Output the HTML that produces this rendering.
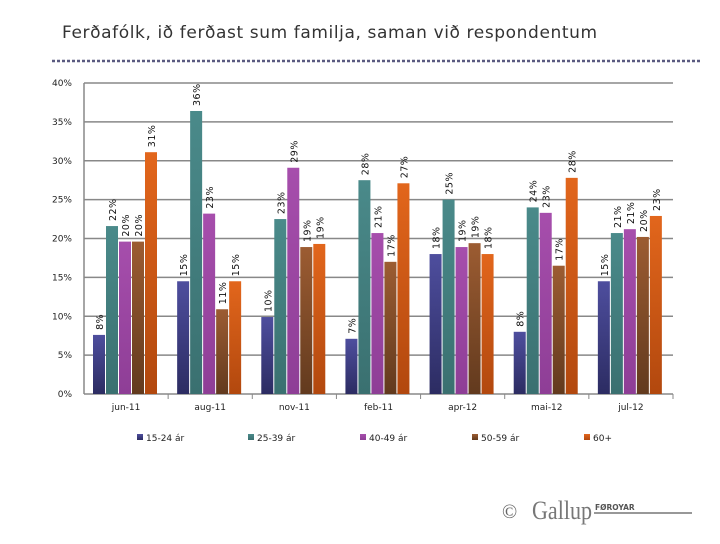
<!DOCTYPE html>
<html><head><meta charset="utf-8"><style>
body{margin:0;background:#fff;width:720px;height:540px;overflow:hidden;font-family:"DejaVu Sans","Liberation Sans",sans-serif}
</style></head><body>
<svg id="c" width="720" height="540" xmlns="http://www.w3.org/2000/svg">
<defs>
<linearGradient id="g0" x1="0" y1="0" x2="0" y2="1"><stop offset="0" stop-color="#4e4e9e"/><stop offset="1" stop-color="#2c2c62"/></linearGradient>
<linearGradient id="g1" x1="0" y1="0" x2="0" y2="1"><stop offset="0" stop-color="#4a8a8a"/><stop offset="1" stop-color="#3a7070"/></linearGradient>
<linearGradient id="g2" x1="0" y1="0" x2="0" y2="1"><stop offset="0" stop-color="#a64eac"/><stop offset="1" stop-color="#8e3e96"/></linearGradient>
<linearGradient id="g3" x1="0" y1="0" x2="0" y2="1"><stop offset="0" stop-color="#9c5c32"/><stop offset="1" stop-color="#623a1e"/></linearGradient>
<linearGradient id="g4" x1="0" y1="0" x2="0" y2="1"><stop offset="0" stop-color="#e2661c"/><stop offset="1" stop-color="#b2480e"/></linearGradient>
</defs>
<text x="62" y="38" font-size="17" fill="#333" letter-spacing="0.6">Ferðafólk, ið ferðast sum familja, saman við respondentum</text>
<line x1="52" y1="61" x2="700" y2="61" stroke="#5a5a80" stroke-width="2.5" stroke-dasharray="3,2"/>
<g id="grid"></g><g id="bars"></g><g id="labels"></g>
<g>
<text x="502" y="518" font-size="20" fill="#666" font-family="Liberation Serif,serif">©</text>
<text x="532" y="519" font-size="26" fill="#777" font-family="Liberation Serif,serif" textLength="60" lengthAdjust="spacingAndGlyphs">Gallup</text>
<text x="595" y="510" font-size="7.5" fill="#555" font-weight="bold">FØROYAR</text>
<line x1="594" y1="513" x2="692" y2="513" stroke="#777" stroke-width="1.5"/>
</g>
</svg>
<script>
const categories=["jun-11","aug-11","nov-11","feb-11","apr-12","mai-12","jul-12"];
const seriesNames=["15-24 ár","25-39 ár","40-49 ár","50-59 ár","60+"];
const s1524=[7.6,14.5,9.9,7.1,18.0,8.0,14.5];
const s2539=[21.6,36.4,22.5,27.5,25.0,24.0,20.7];
const s4049=[19.6,23.2,29.1,20.7,18.9,23.3,21.2];
const s5059=[19.6,10.9,18.9,17.0,19.4,16.5,20.2];
const s60=[31.1,14.5,19.3,27.1,18.0,27.8,22.9];
const yTicks=[0,5,10,15,20,25,30,35,40];
const series=[s1524,s2539,s4049,s5059,s60];
const NS="http://www.w3.org/2000/svg";
const x0=84,x1=673,yb=394,yt=83,ymax=40;
const y=v=>yb-(v/ymax)*(yb-yt);
const gw=(x1-x0)/categories.length;
function mk(t,a,p){const e=document.createElementNS(NS,t);for(const k in a)e.setAttribute(k,a[k]);p.appendChild(e);return e;}
const grid=document.getElementById('grid'),bars=document.getElementById('bars'),labels=document.getElementById('labels');
yTicks.forEach(t=>{
 const l=mk('line',{x1:x0,x2:x1,y1:y(t),y2:y(t),stroke:'#888','stroke-width':1.5},grid);
 
 
 const tx=mk('text',{x:72,y:y(t)+3,'font-size':9,fill:'#222','text-anchor':'end'},grid);
 tx.textContent=t+'%';
 
 
});
mk('line',{x1:x0,x2:x0,y1:yt,y2:yb,stroke:'#888','stroke-width':1.5},grid);
categories.forEach((c,i)=>{
 const gx=x0+i*gw;
 mk('line',{x1:gx+gw,x2:gx+gw,y1:yb,y2:yb+5,stroke:'#888'},grid);
 const t=mk('text',{x:gx+gw/2,y:410,'font-size':9,fill:'#222','text-anchor':'middle'},grid);
 t.textContent=c;
 
 
 series.forEach((s,j)=>{
  const bx=gx+9+j*13,v=s[i];
  const r=mk('rect',{x:bx,y:y(v),width:12,height:yb-y(v),fill:'url(#g'+j+')'},bars);
  
  
  const lb=mk('text',{transform:`translate(${bx+10},${y(v)-5}) rotate(-90)`,'font-size':9.5,fill:'#111','letter-spacing':'0.5'},labels);
  lb.textContent=Math.round(v)+'%';
  
  
 });
});
const lx=[137,248,360,472,584];
seriesNames.forEach((n,j)=>{
 const g=mk('g',{},labels);
 
 
 mk('rect',{x:lx[j],y:434,width:6,height:6,fill:'url(#g'+j+')'},g);
 const t=mk('text',{x:lx[j]+9,y:441,'font-size':9,fill:'#222'},g);
 t.textContent=n;
});
</script>
</body></html>
